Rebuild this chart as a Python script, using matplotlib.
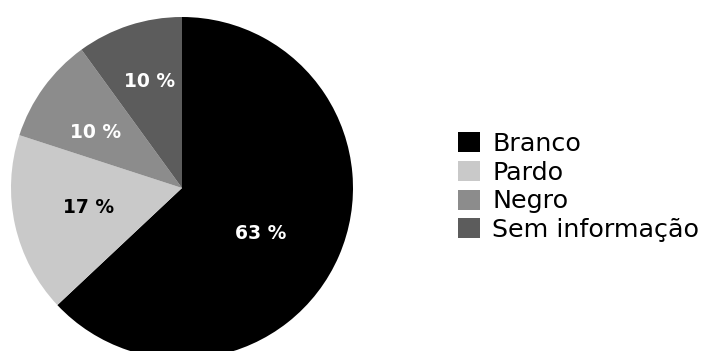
import matplotlib
matplotlib.use('Agg')
import matplotlib.pyplot as plt
import numpy as np

# Data
categories = ["Branco", "Pardo", "Negro", "Sem informação"]
values = [63, 17, 10, 10]
labels = ["63 %", "17 %", "10 %", "10 %"]
colors = ["#000000", "#c9c9c9", "#8c8c8c", "#5c5c5c"]
label_colors = ["white", "black", "white", "white"]

W, H = 703, 351
fig = plt.figure(figsize=(W / 100, H / 100), dpi=100)

# pie axes: centre (182, 188) px, radius 171 px
cx, cy, r = 182, 188, 171
ax = fig.add_axes([(cx - r) / W, (H - cy - r) / H, 2 * r / W, 2 * r / H])
ax.set_aspect('equal')
ax.axis('off')

wedges, _ = ax.pie(values, colors=colors, startangle=90, counterclock=False,
                   radius=1, wedgeprops=dict(linewidth=0))
ax.set_xlim(-1, 1)
ax.set_ylim(-1, 1)

# label placement (radius, angle tweak) per wedge
label_r = [0.53, 0.56, 0.60, 0.65]
label_dtheta = [-6.6, -0.6, 3, -1.2]
for w, lab, col, rr, dt in zip(wedges, labels, label_colors, label_r, label_dtheta):
    ang = np.deg2rad((w.theta1 + w.theta2) / 2 + dt)
    ax.text(rr * np.cos(ang), rr * np.sin(ang), lab, color=col,
            ha='center', va='center', fontsize=13.5, fontweight='bold')

leg = fig.legend(wedges, categories, loc='upper left',
                 bbox_to_anchor=(445.5 / W, 1 - 119 / H), frameon=False,
                 fontsize=18.3, handlelength=0.84, handleheight=0.84,
                 handletextpad=0.5, labelspacing=0.19, borderpad=0)

plt.savefig("out.png", dpi=100)
plt.close()
